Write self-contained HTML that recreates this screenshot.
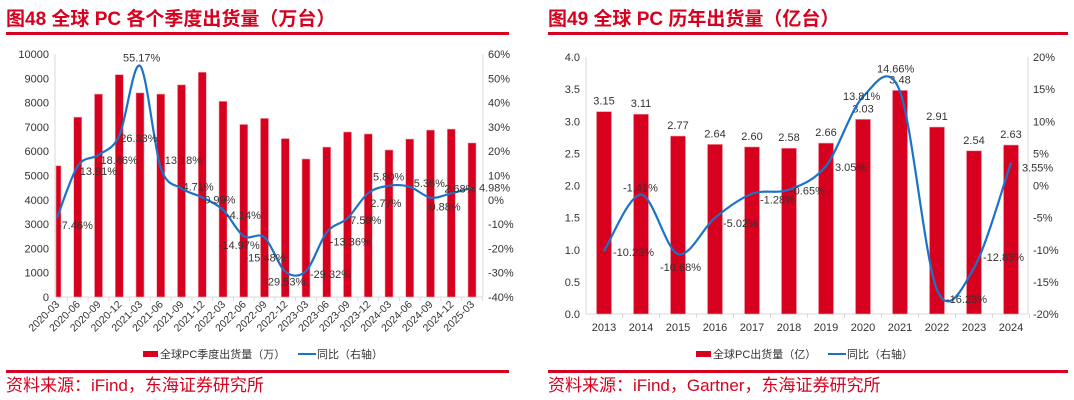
<!DOCTYPE html>
<html><head><meta charset="utf-8">
<style>
body{margin:0;width:1074px;height:400px;background:#fff;overflow:hidden;font-family:"Liberation Sans","Noto Sans CJK SC",sans-serif;}
svg{position:absolute;left:0;top:0}
</style></head><body>
<svg width="1074" height="400" id="svg" font-family="Liberation Sans, Noto Sans CJK SC, sans-serif">
<g>
<text x="6" y="25" font-size="19" font-weight="bold" fill="#d7001e">图48  全球 PC 各个季度出货量（万台）</text>
<rect x="6" y="32" width="503" height="3" fill="#d7001e"/>
</g>
<g>
<text x="548" y="25" font-size="19" font-weight="bold" fill="#d7001e">图49  全球 PC 历年出货量（亿台）</text>
<rect x="548" y="32" width="520" height="3" fill="#d7001e"/>
</g>
<g>
<rect x="143" y="351" width="15" height="6" fill="#d7001e"/>
<text x="160" y="358" font-size="11" fill="#333">全球PC季度出货量（万）</text>
<rect x="298" y="353" width="18" height="2" fill="#1a73c8"/>
<text x="317" y="358" font-size="11" fill="#333">同比（右轴）</text>
</g>
<g>
<rect x="696" y="351" width="15" height="6" fill="#d7001e"/>
<text x="713" y="358" font-size="11" fill="#333">全球PC出货量（亿）</text>
<rect x="828" y="353" width="18" height="2" fill="#1a73c8"/>
<text x="847" y="358" font-size="11" fill="#333">同比（右轴）</text>
</g>
<rect x="6" y="370" width="503" height="3" fill="#d7001e"/>
<rect x="548" y="370" width="520" height="3" fill="#d7001e"/>
<text x="6" y="391" font-size="17" fill="#d7001e">资料来源：iFind，东海证券研究所</text>
<text x="548" y="391" font-size="17" fill="#d7001e">资料来源：iFind，Gartner，东海证券研究所</text>
<g id="c1"></g><g id="c2"></g>
</svg>
<script>
const qCats=["2020-03","2020-06","2020-09","2020-12","2021-03","2021-06","2021-09","2021-12","2022-03","2022-06","2022-09","2022-12","2023-03","2023-06","2023-09","2023-12","2024-03","2024-06","2024-09","2024-12","2025-03"];
const qShip=[5400,7400,8350,9150,8400,8350,8730,9250,8050,7100,7350,6520,5680,6170,6790,6710,6050,6500,6870,6910,6340];
const qYoy=[-7.46,13.91,18.46,26.33,55.17,13.18,4.71,0.99,-4.14,-14.97,-15.48,-29.53,-29.32,-13.36,-7.59,2.77,5.80,5.36,0.88,2.68,4.98];
const qLeftTicks=[0,1000,2000,3000,4000,5000,6000,7000,8000,9000,10000];
const qRightTicks=[-40,-30,-20,-10,0,10,20,30,40,50,60];
const yCats=["2013","2014","2015","2016","2017","2018","2019","2020","2021","2022","2023","2024"];
const yShip=[3.15,3.11,2.77,2.64,2.60,2.58,2.66,3.03,3.48,2.91,2.54,2.63];
const yYoy=[-10.23,-1.41,-10.68,-5.02,-1.28,-0.65,3.05,13.81,14.66,-16.23,-12.83,3.55];
const yLeftTicks=[0,0.5,1,1.5,2,2.5,3,3.5,4];
const yRightTicks=[-20,-15,-10,-5,0,5,10,15,20];

const NS="http://www.w3.org/2000/svg";
function mk(p,t,a){const e=document.createElementNS(NS,t);for(const k in a)e.setAttribute(k,a[k]);p.appendChild(e);return e;}
function smooth(pts){let d="M"+pts[0][0]+","+pts[0][1];const t=0.16;for(let i=0;i<pts.length-1;i++){const p0=pts[i-1]||pts[i],p1=pts[i],p2=pts[i+1],p3=pts[i+2]||p2;d+=" C"+(p1[0]+(p2[0]-p0[0])*t)+","+(p1[1]+(p2[1]-p0[1])*t)+" "+(p2[0]-(p3[0]-p1[0])*t)+","+(p2[1]-(p3[1]-p1[1])*t)+" "+p2[0]+","+p2[1];}return d;}

function chart(g,o){
 const yL=v=>o.bot-(v-o.lmin)/(o.lmax-o.lmin)*(o.bot-o.top);
 const yR=v=>o.bot-(v-o.rmin)/(o.rmax-o.rmin)*(o.bot-o.top);
 const xC=i=>o.x0+i*o.step;
 let e;
 e=mk(g,"line",{x1:o.ax,x2:o.ax,y1:o.top,y2:o.bot,stroke:"#d9d9d9"});
 
 
 e=mk(g,"line",{x1:o.rx,x2:o.rx,y1:o.top,y2:o.bot,stroke:"#d9d9d9"});
 
 
 e=mk(g,"line",{x1:o.ax,x2:o.rx,y1:o.bot,y2:o.bot,stroke:"#d9d9d9"});
 
 
 o.lt.forEach(v=>{e=mk(g,"text",{x:o.ax-6,y:yL(v)+4,"font-size":11,"text-anchor":"end",fill:"#333"});e.textContent=o.lf(v);
  
  });
 o.rt.forEach(v=>{e=mk(g,"text",{x:o.rx+5,y:yR(v)+4,"font-size":11,fill:"#333"});e.textContent=v+"%";
  
  });
 o.cats.forEach((c,i)=>{
  const x=xC(i);
  mk(g,"line",{x1:x+o.step/2,x2:x+o.step/2,y1:o.bot,y2:o.bot+4,stroke:"#d9d9d9"});
  let bx=x-o.bw/2,bw=o.bw; if(bx<o.ax+1){bw-= (o.ax+1-bx);bx=o.ax+1;}
  e=mk(g,"rect",{x:bx,y:yL(o.bars[i]),width:bw,height:o.bot-yL(o.bars[i]),fill:"#d7001e",stroke:"#f2a0a8","stroke-width":0.6});
  
  
  if(o.rot){e=mk(g,"text",{x:x+3,y:o.bot+8,"font-size":10.5,"text-anchor":"end",fill:"#333",transform:"rotate(-45 "+(x+3)+" "+(o.bot+8)+")"});}
  else {e=mk(g,"text",{x:x,y:o.bot+17,"font-size":11,"text-anchor":"middle",fill:"#333"});}
  e.textContent=c;
  
  
  if(o.barLabels){e=mk(g,"text",{x:x,y:yL(o.bars[i])-7,"font-size":11,"text-anchor":"middle",fill:"#333"});e.textContent=o.bars[i].toFixed(2);
   
   }
 });
 const pts=o.line.map((v,i)=>[xC(i),yR(v)]);
 e=mk(g,"path",{d:smooth(pts),fill:"none",stroke:"#1a73c8","stroke-width":2.2});
 
 
 o.line.forEach((v,i)=>{e=mk(g,"text",{x:pts[i][0]+o.dx[i],y:pts[i][1]+o.dy[i],"font-size":11,fill:"#333"});e.textContent=v.toFixed(2)+"%";
  
  });
}
chart(document.getElementById("c1"),{cats:qCats,bars:qShip,line:qYoy,top:54,bot:297,ax:55,rx:483,x0:57,step:20.75,bw:8,lmin:0,lmax:10000,rmin:-40,rmax:60,lt:qLeftTicks,rt:qRightTicks,lf:v=>v,rot:true,barLabels:false,
 dx:[1,2,2,1,-17,4,1,2,3,-25,-20,-21,4,3,-1,2,-16,4,-1,-7,7],
 dy:[11,9,9,6,-4,-4,2,6,9,13,24,14,7,13,6,14,-5,0,13,-1,4]});
chart(document.getElementById("c2"),{cats:yCats,bars:yShip,line:yYoy,top:57,bot:314,ax:586,rx:1028,x0:604,step:37,bw:15,lmin:0,lmax:4,rmin:-20,rmax:20,lt:yLeftTicks,rt:yRightTicks,lf:v=>v.toFixed(1),rot:false,barLabels:true,
 dx:[9,-18,-18,8,8,1,9,-20,-23,9,9,11],
 dy:[5,-3,17,9,10,5,5,3,-19,13,-7,9]});
</script>
</body></html>
